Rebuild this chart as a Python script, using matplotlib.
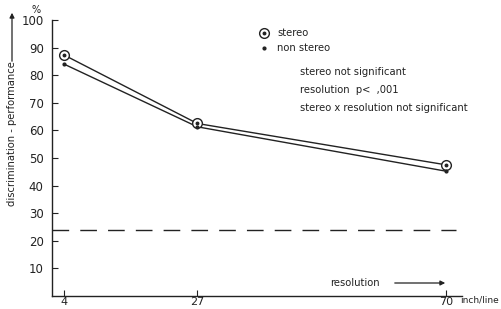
import matplotlib
matplotlib.use("Agg")
import matplotlib.pyplot as plt

resolution = [4, 27, 70]
stereo = [87.3, 62.5, 47.5]
non_stereo = [84.0, 61.3, 45.2]
chance = 24
yticks = [10, 20, 30, 40, 50, 60, 70, 80, 90, 100]
xtick_labels = ["4", "27", "70"]

W, H = 501, 309
fig = plt.figure(figsize=(W / 100, H / 100), dpi=100)
plt.rcParams['font.family'] = ['DejaVu Sans']
ax = fig.add_axes([52 / W, 1 - 296 / H, (462 - 52) / W, (296 - 20) / H])
ink = "#222222"

ax.plot(resolution, stereo, color=ink, lw=1.0)
ax.plot(resolution, non_stereo, color=ink, lw=1.0)
ax.plot(resolution, stereo, 'o', ms=7, mfc='white', mec=ink, mew=1.0)
ax.plot(resolution, stereo, 'o', ms=1.8, color=ink)
ax.plot(resolution, non_stereo, 'o', ms=2.0, color=ink)
ax.axhline(chance, xmin=0, xmax=0.985, color=ink, lw=1.0, dashes=(12, 8))

ax.set_xlim(1.9, 72.7)
ax.set_ylim(0, 100)
ax.set_yticks(yticks)
ax.set_yticklabels([str(v) for v in yticks], fontsize=8.5, color=ink)
ax.set_xticks(resolution)
ax.set_xticklabels(xtick_labels, fontsize=8, color=ink)
ax.tick_params(axis='y', direction='in', length=4, pad=6, color=ink)
ax.tick_params(axis='x', direction='in', length=4, pad=0.5, color=ink)
for s in ['top', 'right']:
    ax.spines[s].set_visible(False)
for s in ['left', 'bottom']:
    ax.spines[s].set_color(ink)
    ax.spines[s].set_linewidth(1.0)

def fx(x):
    return x / W

def fy(y):
    return 1 - y / H

fs = 7.2
# legend
fig.lines.append(plt.Line2D([fx(264)], [fy(33)], marker='o', ms=7, mfc='white', mec=ink, mew=1.0, transform=fig.transFigure))
fig.lines.append(plt.Line2D([fx(264)], [fy(33)], marker='o', ms=1.8, color=ink, transform=fig.transFigure))
fig.lines.append(plt.Line2D([fx(264)], [fy(48)], marker='o', ms=2.0, color=ink, transform=fig.transFigure))
fig.text(fx(277), fy(33), "stereo", fontsize=fs, va='center', color=ink)
fig.text(fx(277), fy(48), "non stereo", fontsize=fs, va='center', color=ink)
fig.text(fx(300), fy(72), "stereo not significant", fontsize=fs, va='center', color=ink)
fig.text(fx(300), fy(90), "resolution  p<  ,001", fontsize=fs, va='center', color=ink)
fig.text(fx(300), fy(108), "stereo x resolution not significant", fontsize=fs, va='center', color=ink)

# y label with arrow
fig.text(fx(12), fy(134), "discrimination - performance", fontsize=fs, rotation=90,
         va='center', ha='center', color=ink)
fig.add_artist(matplotlib.patches.FancyArrowPatch((fx(12), fy(64)), (fx(12), fy(10)),
               transform=fig.transFigure, arrowstyle='-|>', mutation_scale=7, lw=0.9, color=ink))
fig.text(fx(36), fy(10), "%", fontsize=7, ha='center', va='center', color=ink)

# x annotation
fig.text(fx(330), fy(283), "resolution", fontsize=fs, va='center', color=ink)
fig.add_artist(matplotlib.patches.FancyArrowPatch((fx(392), fy(283)), (fx(448), fy(283)),
               transform=fig.transFigure, arrowstyle='-|>', mutation_scale=7, lw=0.9, color=ink))
fig.text(fx(460), fy(300), "inch/line", fontsize=6.5, va='center', color=ink)

fig.savefig("out.png", dpi=100)
